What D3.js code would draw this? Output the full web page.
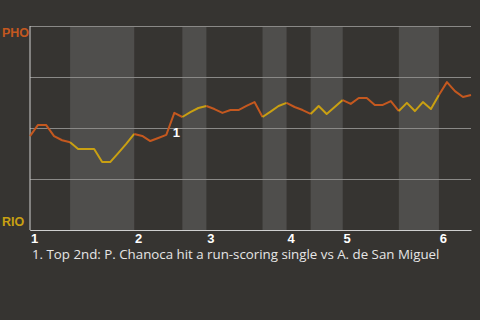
<!DOCTYPE html>
<html>
<head>
<meta charset="utf-8">
<script src="https://cdn.jsdelivr.net/npm/d3@7"></script>
<style>
  body { margin: 0; background: #363431; }
  svg { display: block; font-family: "Liberation Sans", sans-serif; }
</style>
</head>
<body>
<svg id="chart" width="480" height="320"></svg>
<script>
// PHO win probability (%) after each play
const winProb = [46, 51.5, 51.5, 46, 44, 43, 39.7, 39.7, 39.7, 33.3, 33.3, 37.7, 42.2,
  47.1, 46.1, 43.6, 45.1, 46.6, 57.4, 55.4, 57.8, 59.8, 60.8, 59.3, 57.4, 58.8, 58.8,
  60.8, 62.7, 55.4, 58, 60.8, 62.3, 60.3, 58.8, 56.9, 60.8, 56.9, 60.3, 63.7, 61.8,
  64.7, 64.7, 61.3, 61.3, 63.2, 58.3, 62.3, 58.3, 62.7, 59.3, 66.2, 72.5, 68.1, 65.2, 66.2];
// play index where each half-inning starts (last entry = current end)
const halfStarts = [0, 5, 13, 19, 22, 29, 32, 35, 39, 46, 51, 55];
const inningLabels = ["1", "2", "3", "4", "5", "6"];
const teams = ["PHO", "RIO"];
const gridValues = [0, 25, 50, 75, 100];
const noteIndex = 18;
const noteText = "1. Top 2nd: P. Chanoca hit a run-scoring single vs A. de San Miguel";

const colors = { PHO: "#c4581f", RIO: "#c9a012" };
const margin = { left: 30, right: 9, top: 26, bottom: 90 };
const width = 480, height = 320;

const svg = d3.select("#chart");

const x = d3.scaleLinear().domain([0, winProb.length - 1]).range([margin.left, width - margin.right]);
const y = d3.scaleLinear().domain([0, 100]).range([height - margin.bottom, margin.top]);

// shaded bottom halves
for (let i = 1; i < halfStarts.length - 1; i += 2) {
  svg.append("rect")
    .attr("x", x(halfStarts[i]))
    .attr("y", y(100))
    .attr("width", x(halfStarts[i + 1]) - x(halfStarts[i]))
    .attr("height", y(0) - y(100))
    .attr("fill", "#4f4e4c");
}

// grid lines
svg.append("g")
  .attr("transform", "translate(" + margin.left + ",0)")
  .call(d3.axisLeft(y).tickValues(gridValues).tickSize(-(width - margin.left - margin.right)).tickFormat(""))
  .call(g => g.select(".domain").remove())
  .call(g => g.selectAll("line").attr("stroke", "#8a8987"));

// axes
svg.append("line")
  .attr("x1", x(0)).attr("x2", x(0))
  .attr("y1", y(100)).attr("y2", y(0))
  .attr("stroke", "#cfcfcf");

const xAxis = d3.axisBottom(x)
  .tickValues(halfStarts.filter((d, i) => i % 2 === 0 && i < halfStarts.length - 1))
  .tickSize(0)
  .tickFormat((d, i) => inningLabels[i]);

svg.append("g")
  .attr("transform", "translate(0," + y(0) + ")")
  .call(xAxis)
  .call(g => g.select(".domain").attr("stroke", "#cfcfcf"))
  .call(g => g.selectAll("text")
    .attr("dx", 4).attr("dy", 10)
    .attr("fill", "#ffffff")
    .style("font-size", "13px")
    .style("font-weight", "bold")
    .style("font-family", "Liberation Sans, sans-serif"));

// team labels
svg.append("text")
  .attr("x", 2).attr("y", y(100) + 11)
  .attr("fill", colors.PHO)
  .style("font-size", "12.5px").style("font-weight", "bold")
  .text(teams[0]);
svg.append("text")
  .attr("x", 2).attr("y", y(0) - 4)
  .attr("fill", colors.RIO)
  .style("font-size", "12.5px").style("font-weight", "bold")
  .text(teams[1]);

// win probability line, colored by half-inning
const line = d3.line().x(d => x(d.i)).y(d => y(d.v));
const pts = winProb.map((v, i) => ({ i, v }));
for (let h = 0; h < halfStarts.length - 1; h++) {
  svg.append("path")
    .datum(pts.slice(halfStarts[h], halfStarts[h + 1] + 1))
    .attr("fill", "none")
    .attr("stroke", h % 2 === 0 ? colors.PHO : colors.RIO)
    .attr("stroke-width", 2)
    .attr("stroke-linejoin", "round")
    .attr("d", line);
}

// annotation
svg.append("text")
  .attr("x", x(noteIndex) + 2)
  .attr("y", y(winProb[noteIndex]) + 24)
  .attr("text-anchor", "middle")
  .attr("fill", "#ffffff")
  .style("font-size", "13px").style("font-weight", "bold")
  .text("1");

svg.append("text")
  .attr("x", 32)
  .attr("y", y(0) + 29)
  .attr("fill", "#e6e6e6")
  .style("font-size", "13.3px")
  .style("font-family", "Open Sans, sans-serif")
  .text(noteText);
</script>
</body>
</html>
